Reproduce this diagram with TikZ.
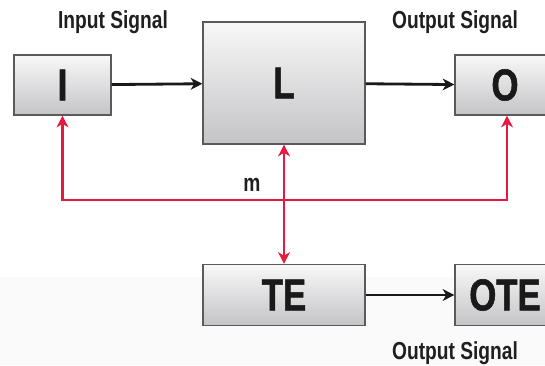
\documentclass[tikz,border=0pt]{standalone}
\usepackage{fontspec}
\usetikzlibrary{arrows.meta}
\setmainfont{Liberation Sans}[FakeStretch=0.78]
\newfontfamily\heavyfont{Liberation Sans}[FakeStretch=0.78,FakeBold=1.2]
\definecolor{sigred}{HTML}{E8193F}
\definecolor{boxtop}{HTML}{F8F8F8}
\definecolor{boxbot}{HTML}{C4C4C7}
\definecolor{boxline}{HTML}{5A5A5A}
\definecolor{bandgray}{HTML}{FAFAFA}
\tikzset{
  blockbox/.style={draw=boxline,line width=1pt,top color=boxtop,bottom color=boxbot,
    inner sep=0pt,font=\heavyfont\bfseries\fontsize{38}{38}\selectfont,text=black!90},
  siglabel/.style={font=\bfseries\fontsize{21}{21}\selectfont,text=black!88},
  flow/.style={-{Stealth[length=10pt,width=10pt,inset=3pt]},line width=2.4pt,black!90},
  redline/.style={line width=2.4pt,sigred}
}
\begin{document}
\begin{tikzpicture}[>={Stealth[length=10pt,width=10pt,inset=3pt]},x=0.03cm,y=-0.03cm]
		\useasboundingbox (0,0) rectangle (545,365);
		\fill[bandgray] (0,277) rectangle (545,365);
		\begin{scope}
		\clip (0,0) rectangle (545,365);
		% blocks
		\node[blockbox,minimum width=2.91cm,minimum height=1.8cm] (I) at (62.5,85) {I};
		\node[blockbox,minimum width=4.86cm,minimum height=3.66cm] (L) at (284,83) {L};
		\node[blockbox,minimum width=3cm,minimum height=1.8cm] (O) at (505,85) {O};
		\node[blockbox,minimum width=4.86cm,minimum height=1.83cm] (TE) at (284,295) {TE};
		\node[blockbox,minimum width=3cm,minimum height=1.83cm] (OTE) at (505,295) {OTE};
		% labels
		\node[siglabel] (inlab) at (113,22) {Input Signal};
		\node[siglabel] (outlab) at (455,22) {Output Signal};
		\node[siglabel] (otelab) at (455,353) {Output Signal};
		\node[siglabel] (mlab) at (252,185) {m};
		\end{scope}
		% signal flow
		\draw[flow] (I) -- (L);
		\draw[flow] (L) -- (O);
		\draw[flow] (TE) -- (OTE);
		% red links
		\coordinate (mid) at (284,200);
		\draw[redline,->] (mid) -| (I.south);
		\draw[redline,->] (mid) -| (O.south -| 507,0);
		\draw[redline,<->] (L) -- (TE);
\end{tikzpicture}
\end{document}
